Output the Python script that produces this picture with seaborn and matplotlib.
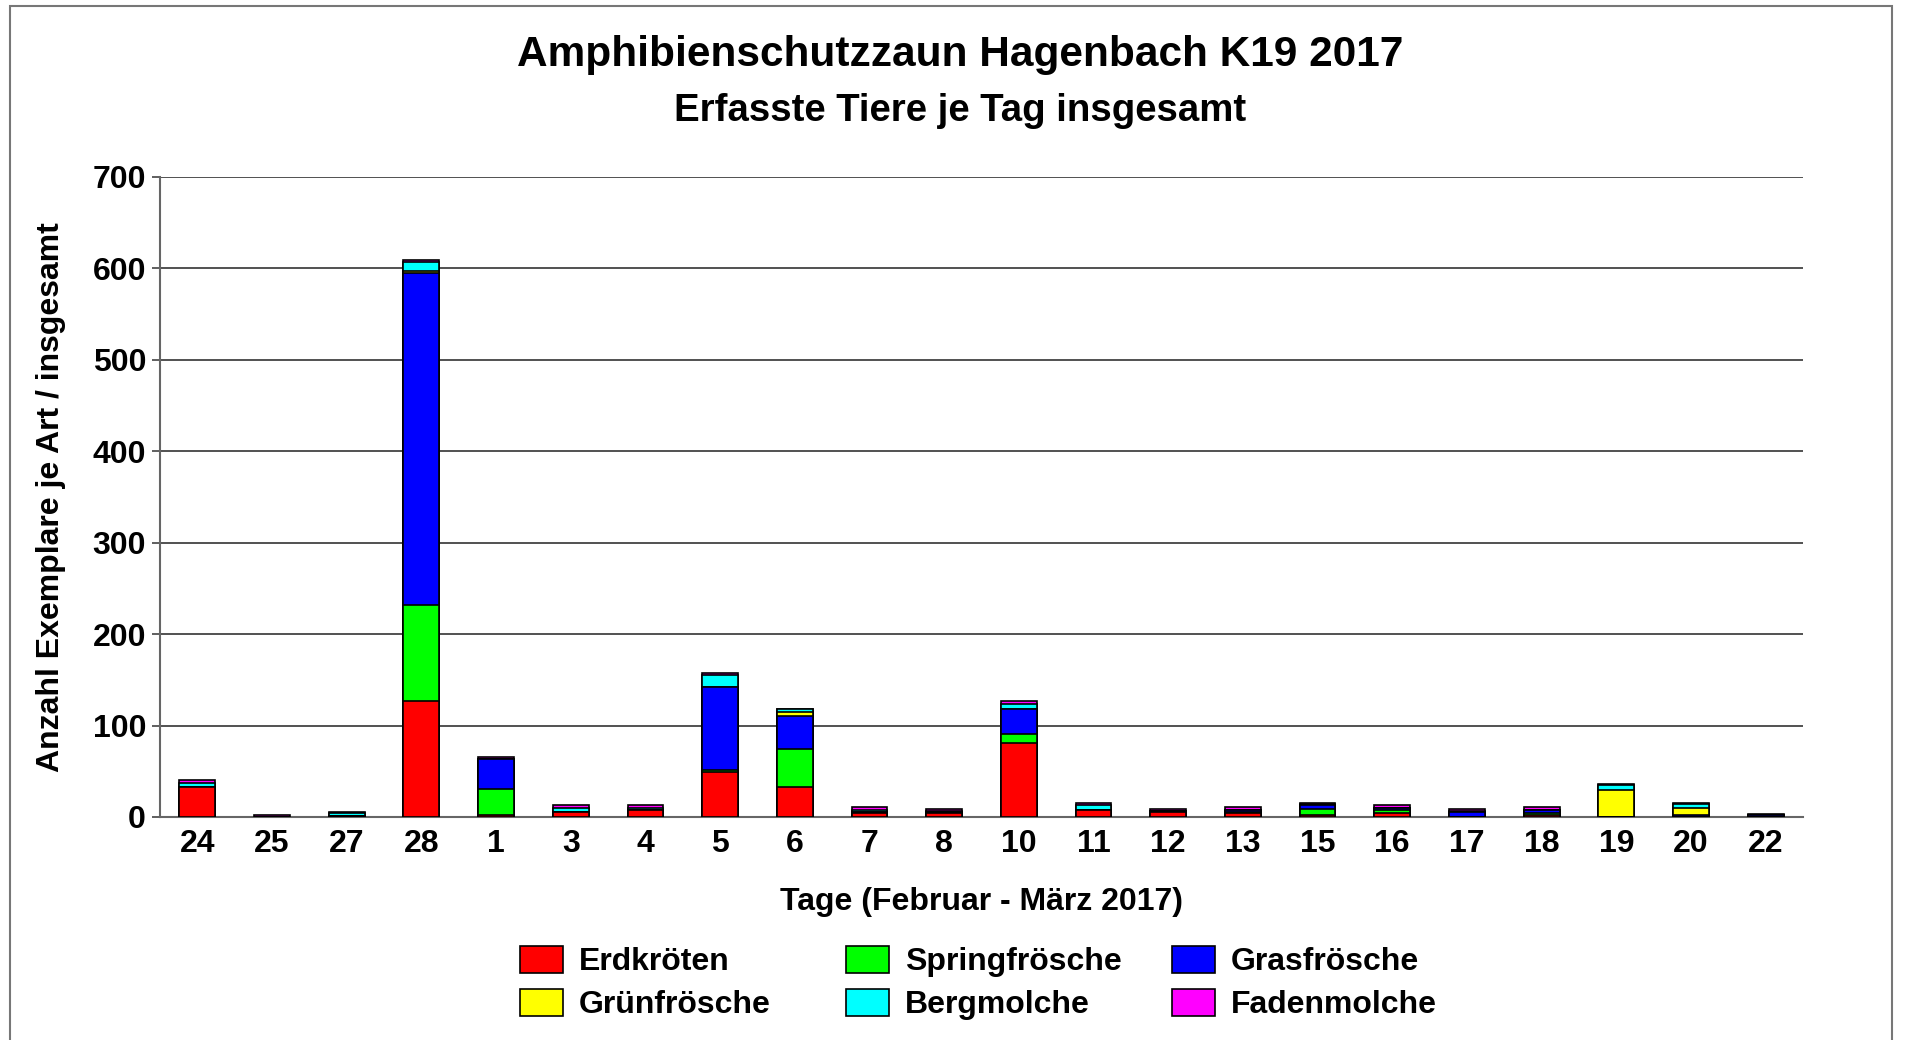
import matplotlib
matplotlib.use("Agg")
import matplotlib.pyplot as plt
import matplotlib.patches as mpatches
import numpy as np
import pandas as pd
import seaborn as sns

days = ["24", "25", "27", "28", "1", "3", "4", "5", "6", "7", "8",
        "10", "11", "12", "13", "15", "16", "17", "18", "19", "20", "22"]

erdkroeten    = [33, 0, 1, 127, 2, 6, 8, 49, 33, 4, 4, 81, 8, 6, 4, 2, 4, 0, 2, 0, 0, 0]
springfroesche = [0, 0, 0, 105, 29, 0, 0, 2, 41, 0, 0, 10, 0, 0, 2, 7, 4, 0, 2, 0, 0, 0]
grasfroesche  = [0, 0, 0, 363, 32, 0, 0, 91, 36, 2, 2, 27, 0, 1, 2, 4, 2, 6, 4, 0, 2, 2]
gruenfroesche = [0, 0, 0, 2, 0, 0, 0, 0, 5, 0, 0, 0, 0, 0, 0, 0, 0, 0, 0, 29, 8, 0]
bergmolche    = [4, 0, 3, 10, 0, 4, 2, 13, 3, 2, 1, 6, 5, 0, 0, 1, 0, 1, 0, 6, 4, 0]
fadenmolche   = [3, 2, 1, 2, 3, 3, 3, 3, 0, 3, 2, 3, 2, 2, 3, 1, 3, 2, 3, 1, 1, 1]

species = ["Erdkröten", "Springfrösche", "Grasfrösche",
           "Grünfrösche", "Bergmolche", "Fadenmolche"]
colors = ["#FF0000", "#00FF00", "#0000FF", "#FFFF00", "#00FFFF", "#FF00FF"]

df = pd.DataFrame({"Tag": days,
                   "Erdkröten": erdkroeten,
                   "Springfrösche": springfroesche,
                   "Grasfrösche": grasfroesche,
                   "Grünfrösche": gruenfroesche,
                   "Bergmolche": bergmolche,
                   "Fadenmolche": fadenmolche})
cum = df[species].cumsum(axis=1)

sns.set_style("white")
plt.rcParams["font.family"] = ["Liberation Sans", "DejaVu Sans"]
plt.rcParams["font.weight"] = "bold"
for key in ["text.color", "axes.labelcolor", "xtick.labelcolor", "ytick.labelcolor"]:
    plt.rcParams[key] = "black"

FS = 23
W, H = 1908, 1040
fig = plt.figure(figsize=(W / 100, H / 100), dpi=100)
ax = fig.add_axes([160 / W, 1 - 817 / H, (1803 - 160) / W, (817 - 177) / H])

# stacked bars: draw cumulative totals from the top layer down
for sp, col in zip(reversed(species), reversed(colors)):
    sns.barplot(x=df["Tag"], y=cum[sp], order=days, color=col, width=0.48,
                edgecolor="black", linewidth=1.2, saturation=1, ax=ax, zorder=3)

ax.set_ylim(0, 700)
ax.set_xlim(-0.5, len(days) - 0.5)
ax.set_yticks(range(0, 701, 100))
ax.yaxis.grid(True, color="#222222", linewidth=1.1, zorder=0)
ax.set_axisbelow(True)

for s in ["top", "right"]:
    ax.spines[s].set_visible(False)
for s in ["left", "bottom"]:
    ax.spines[s].set_color("#666666")
    ax.spines[s].set_linewidth(1.5)

ax.set_xticks(np.arange(-0.5, len(days) - 0.4, 1), minor=True)
ax.tick_params(axis="x", which="major", length=0, pad=9, labelsize=FS)
ax.tick_params(axis="x", which="minor", direction="inout", length=12,
               width=1.5, color="#444444")
ax.tick_params(axis="y", direction="out", length=6, width=1.2,
               color="#444444", labelsize=FS, pad=4, left=True)
for lbl in ax.get_xticklabels() + ax.get_yticklabels():
    lbl.set_fontweight("bold")

ax.set_xlabel("Tage (Februar - März 2017)", fontsize=FS, fontweight="bold",
              labelpad=20)
ax.set_ylabel("Anzahl Exemplare je Art / insgesamt", fontsize=FS,
              fontweight="bold", labelpad=19)

fig.text(0.503, 1 - 55 / H, "Amphibienschutzzaun Hagenbach K19 2017",
         ha="center", va="center", fontsize=30.5, fontweight="bold")
fig.text(0.503, 1 - 111 / H, "Erfasste Tiere je Tag insgesamt",
         ha="center", va="center", fontsize=27.6, fontweight="bold")

# legend: one small legend per column so the columns sit evenly spaced
col_x = [520, 846, 1172]
for c, x0 in enumerate(col_x):
    idx = [c, c + 3]
    handles = [mpatches.Patch(facecolor=colors[i], edgecolor="black",
                              linewidth=1.2, label=species[i]) for i in idx]
    fig.legend(handles=handles, ncol=1, loc="center left",
               bbox_to_anchor=(x0 / W, 1 - 983 / H), frameon=False,
               borderpad=0, borderaxespad=0,
               prop={"size": FS, "weight": "bold"}, handlelength=1.35,
               handleheight=0.95, handletextpad=0.5, labelspacing=0.35)

fig.patches.append(mpatches.Rectangle((10 / W, -0.01), (1892 - 10) / W,
                                      (H - 6) / H + 0.01, fill=False,
                                      edgecolor="#777777", linewidth=1.5,
                                      transform=fig.transFigure, figure=fig))

fig.savefig("out.png", dpi=100)
